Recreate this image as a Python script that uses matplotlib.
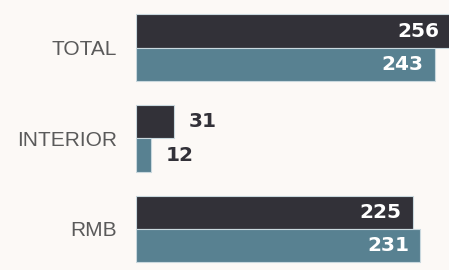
import matplotlib.pyplot as plt
import numpy as np

categories = ['TOTAL', 'INTERIOR', 'RMB']
series_dark = [256, 31, 225]
series_teal = [243, 12, 231]

DARK = '#323138'
TEAL = '#588191'
BG = '#fcf9f6'
EDGE = '#c9d8de'

plt.rcParams['font.family'] = ['Liberation Sans', 'DejaVu Sans']

fig = plt.figure(figsize=(4.49, 2.70), dpi=100, facecolor=BG)
ax = fig.add_axes([136 / 449, 0, 313 / 449, 1])
ax.set_facecolor(BG)

y = np.arange(len(categories))
h = 0.37
bars_dark = ax.barh(y - h / 2, series_dark, height=h, color=DARK, edgecolor=EDGE, linewidth=0.8)
bars_teal = ax.barh(y + h / 2, series_teal, height=h, color=TEAL, edgecolor=EDGE, linewidth=0.8)

ax.set_xlim(0, 254.5)
ax.set_ylim(2.453, -0.53)

ax.set_yticks(y)
ax.set_yticklabels(categories, fontsize=15, color='#5a5a5a')
ax.tick_params(axis='y', length=0, pad=13.5)
ax.set_xticks([])
for s in ax.spines.values():
    s.set_visible(False)

# подписи значений: длинные внутри бара, короткие снаружи
for bars, vals in ((bars_dark, series_dark), (bars_teal, series_teal)):
    for bar, v in zip(bars, vals):
        cy = bar.get_y() + bar.get_height() / 2
        if v > 100:
            ax.annotate(str(v), (v, cy), xytext=(-11, 0), textcoords='offset pixels',
                        ha='right', va='center', color='white', fontsize=14.5,
                        fontweight='heavy', family='DejaVu Sans', annotation_clip=False)
        else:
            ax.annotate(str(v), (v, cy), xytext=(15, 0), textcoords='offset pixels',
                        ha='left', va='center', color=DARK, fontsize=14.5,
                        fontweight='heavy', family='DejaVu Sans')

fig.savefig('out.png', dpi=100, facecolor=BG)
